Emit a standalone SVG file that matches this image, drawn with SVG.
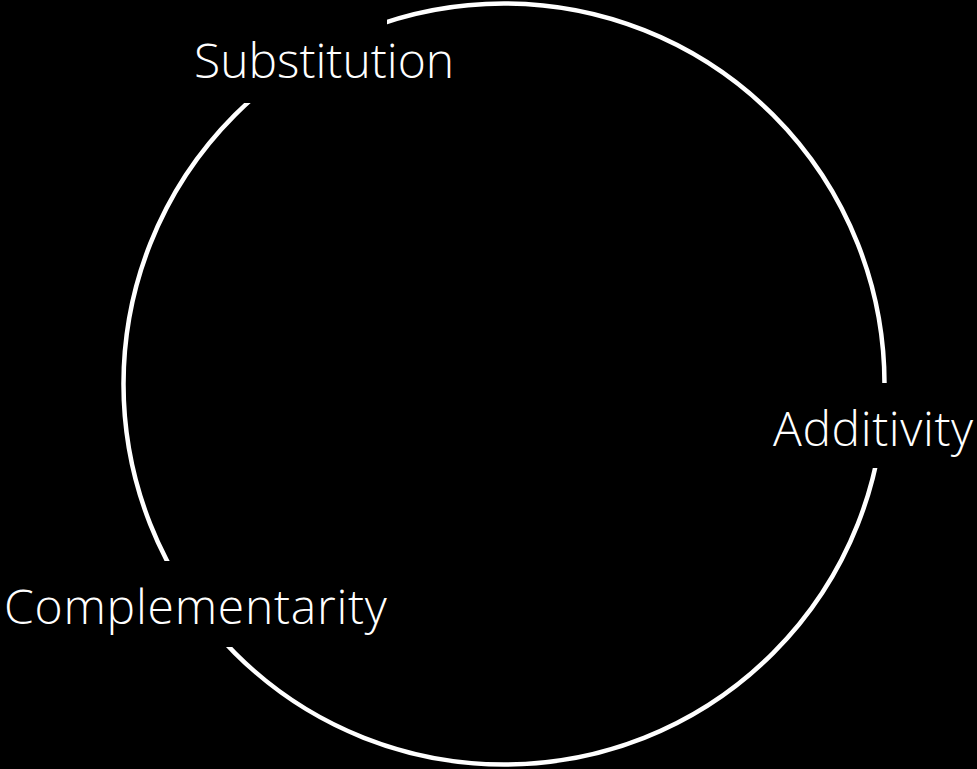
<svg xmlns="http://www.w3.org/2000/svg" width="977" height="769" viewBox="0 0 977 769">
  <style>
    .ring { fill: none; stroke: #ffffff; stroke-width: 4.5; }
    .pad { fill: #000000; }
    .label { fill: #ffffff; font-family: "Open Sans", "Noto Sans", "Liberation Sans", sans-serif; font-weight: 300; font-size: 48px; }
  </style>
  <rect width="977" height="769" fill="#000000"/>
  <g id="connectors">
    <circle class="ring" cx="504" cy="384" r="380.5"/>
  </g>
  <g id="node-substitution">
    <rect class="pad" x="180" y="17" width="207" height="86"/>
    <text class="label" x="194" y="78">Substitution</text>
  </g>
  <g id="node-additivity">
    <rect class="pad" x="765" y="383" width="212" height="85"/>
    <text class="label" x="773" y="446" letter-spacing="0.6">Additivity</text>
  </g>
  <g id="node-complementarity">
    <rect class="pad" x="0" y="561" width="395" height="86"/>
    <text class="label" x="4" y="624" letter-spacing="0.75">Complementarity</text>
  </g>
</svg>
